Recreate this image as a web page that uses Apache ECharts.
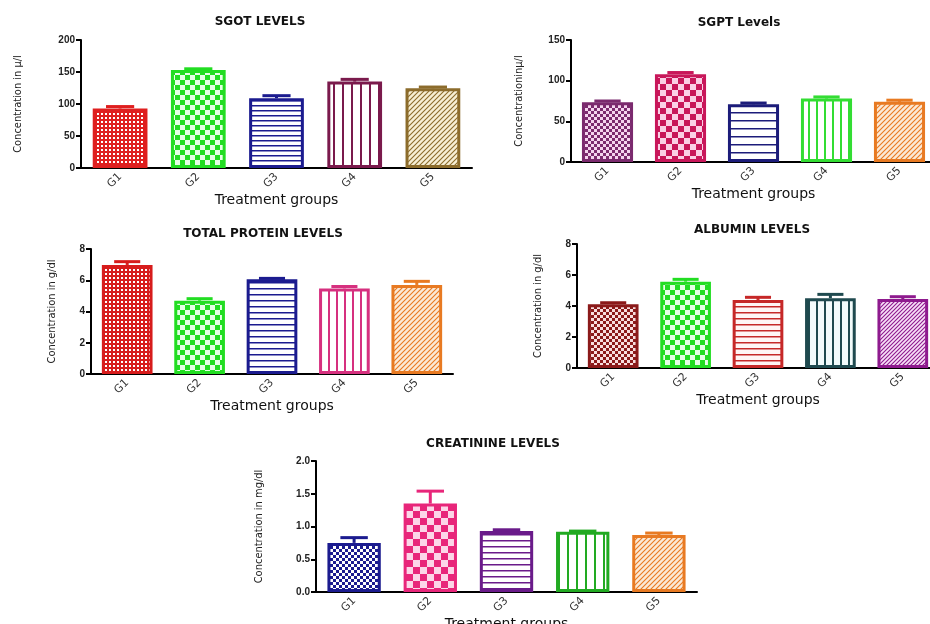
<!DOCTYPE html>
<html>
<head>
<meta charset="utf-8">
<script src="https://cdn.jsdelivr.net/npm/echarts@6/dist/echarts.min.js"></script>
<style>html,body{margin:0;padding:0;background:#fff;}#c{width:930px;height:624px;}</style>
</head>
<body>
<div id="c"></div>
<script>
// ---- data ----
const groups = ['G1', 'G2', 'G3', 'G4', 'G5'];
const sgotMean = [93, 153, 109, 135, 124.5];
const sgotErr = [96, 155, 113, 138.5, 126.5];
const sgptMean = [73.5, 108, 71, 78, 74];
const sgptErr = [75, 110, 72.5, 80, 76];
const proteinMean = [6.98, 4.69, 6.06, 5.48, 5.7];
const proteinErr = [7.19, 4.82, 6.12, 5.6, 5.93];
const albuminMean = [4.11, 5.57, 4.39, 4.5, 4.45];
const albuminErr = [4.21, 5.72, 4.56, 4.75, 4.6];
const creatMean = [0.75, 1.35, 0.93, 0.92, 0.87];
const creatErr = [0.83, 1.54, 0.95, 0.93, 0.9];
const titles = ['SGOT LEVELS', 'SGPT Levels', 'TOTAL PROTEIN LEVELS', 'ALBUMIN LEVELS', 'CREATININE LEVELS'];
const yNames = ['Concentration in µ/l', 'Concentrationinµ/l', 'Concentration in g/dl', 'Concentration in g/dl', 'Concentration in mg/dl'];
const xName = 'Treatment groups';

// ---- patterns ----
function mk(w, h, draw) {
  const c = document.createElement('canvas');
  c.width = w; c.height = h;
  draw(c.getContext('2d'), w, h);
  return { image: c, repeat: 'repeat' };
}
function pat(kind, color, bg, n) {
  bg = bg || '#ffffff';
  if (kind === 'grid') return mk(n, n, (g) => { g.fillStyle = color; g.fillRect(0, 0, n, n); g.fillStyle = bg; g.fillRect(1, 1, n - 2, n - 2); });
  if (kind === 'check') return mk(2 * n, 2 * n, (g) => { g.fillStyle = bg; g.fillRect(0, 0, 2 * n, 2 * n); g.fillStyle = color; g.fillRect(0, 0, n, n); g.fillRect(n, n, n, n); });
  if (kind === 'h') return mk(4, n, (g) => { g.fillStyle = bg; g.fillRect(0, 0, 4, n); g.fillStyle = color; g.fillRect(0, 0, 4, 1.5); });
  if (kind === 'v') return mk(n, 4, (g) => { g.fillStyle = bg; g.fillRect(0, 0, n, 4); g.fillStyle = color; g.fillRect(0, 0, 2, 4); });
  if (kind === 'hatch') return mk(n, n, (g) => {
    g.fillStyle = bg; g.fillRect(0, 0, n, n);
    g.strokeStyle = color; g.lineWidth = 1.1;
    g.beginPath(); g.moveTo(0, n); g.lineTo(n, 0); g.moveTo(-1, 1); g.lineTo(1, -1); g.moveTo(n - 1, n + 1); g.lineTo(n + 1, n - 1); g.stroke();
  });
}

const panels = [
  { grid: { left: 81, top: 40, width: 391, height: 128 }, max: 200, interval: 50, dec: 0, mean: sgotMean, err: sgotErr,
    title: { x: 255, y: 11 }, nameGap: 57, xGap: 24,
    colors: ['#df1f1f', '#22dd22', '#1b1b8f', '#7a1a4c', '#8c6c2c'],
    fills: () => [pat('grid', '#df1f1f', '#ffffff', 4), pat('check', '#22dd22', '#e6ffe6', 5), pat('h', '#1b1b8f', '#ffffff', 5), pat('v', '#7a1a4c', '#ffffff', 9), pat('hatch', '#8c6c2c', '#f7efd4', 5)] },
  { grid: { left: 571, top: 40, width: 365, height: 122 }, max: 150, interval: 50, dec: 0, mean: sgptMean, err: sgptErr,
    title: { x: 734, y: 12 }, nameGap: 46, xGap: 21,
    colors: ['#7b2a6e', '#c8175a', '#1c1c7a', '#33dd33', '#e87a22'],
    fills: () => [pat('check', '#7b2a6e', '#f4d4ee', 3), pat('check', '#c8175a', '#fbd0e6', 6), pat('h', '#1c1c7a', '#ffffff', 8), pat('v', '#33dd33', '#ffffff', 8), pat('hatch', '#e87a22', '#fbe9d6', 5)] },
  { grid: { left: 91, top: 249, width: 362, height: 125 }, max: 8, interval: 2, dec: 0, mean: proteinMean, err: proteinErr,
    title: { x: 258, y: 223 }, nameGap: 33, xGap: 23,
    colors: ['#d71c1c', '#22dd22', '#1b1b8f', '#d6307f', '#e87a22'],
    fills: () => [pat('grid', '#d71c1c', '#ffffff', 4), pat('check', '#22dd22', '#e6ffe6', 5), pat('h', '#1b1b8f', '#ffffff', 6), pat('v', '#d6307f', '#ffffff', 8), pat('hatch', '#e87a22', '#fbe9d6', 5)] },
  { grid: { left: 577, top: 244, width: 362, height: 124 }, max: 8, interval: 2, dec: 0, mean: albuminMean, err: albuminErr,
    title: { x: 747, y: 219 }, nameGap: 33, xGap: 21,
    colors: ['#8b1a1a', '#22dd22', '#c62828', '#1f4a4f', '#8e1a8e'],
    fills: () => [pat('check', '#8b1a1a', '#f8dede', 3), pat('check', '#22dd22', '#e6ffe6', 5), pat('h', '#c62828', '#fff4f4', 6), pat('v', '#1f4a4f', '#f2fbfb', 8), pat('hatch', '#8e1a8e', '#f8e0f8', 4)] },
  { grid: { left: 316, top: 461, width: 381, height: 131 }, max: 2, interval: 0.5, dec: 1, mean: creatMean, err: creatErr,
    title: { x: 488, y: 433 }, nameGap: 51, xGap: 23,
    colors: ['#1b1b8f', '#e8267a', '#6a1b8a', '#22aa22', '#e87a22'],
    fills: () => [pat('check', '#1b1b8f', '#ffffff', 3), pat('check', '#e8267a', '#fcd6e8', 7), pat('h', '#6a1b8a', '#ffffff', 6), pat('v', '#22aa22', '#ffffff', 9), pat('hatch', '#e87a22', '#fbe9d6', 5)] }
];

const option = { animation: false, backgroundColor: '#ffffff', title: [], grid: [], xAxis: [], yAxis: [], series: [] };
panels.forEach((p, k) => {
  const fills = p.fills();
  option.title.push({ text: titles[k], left: p.title.x, top: p.title.y, textAlign: 'center',
    textStyle: { fontFamily: 'DejaVu Sans', fontWeight: 'bold', fontSize: 12, color: '#111' } });
  option.grid.push(Object.assign({ containLabel: false, outerBoundsMode: 'none' }, p.grid));
  option.xAxis.push({ type: 'category', gridIndex: k, data: groups,
    name: xName, nameLocation: 'middle', nameGap: p.xGap,
    nameTextStyle: { fontFamily: 'DejaVu Sans', fontSize: 14, color: '#111' },
    axisLine: { lineStyle: { color: '#000', width: 2 } },
    axisTick: { alignWithLabel: true, length: 4, lineStyle: { color: '#000', width: 2 } },
    axisLabel: { rotate: 45, fontSize: 11, color: '#333', fontFamily: 'DejaVu Sans', margin: 7 } });
  option.yAxis.push({ type: 'value', gridIndex: k, min: 0, max: p.max, interval: p.interval,
    name: yNames[k], nameLocation: 'middle', nameGap: p.nameGap, nameRotate: 90,
    nameTextStyle: { fontFamily: 'Liberation Sans Narrow, DejaVu Sans Condensed, Liberation Sans', fontSize: 11, color: '#222' },
    axisLine: { show: true, lineStyle: { color: '#000', width: 2 } },
    axisTick: { show: true, length: 5, lineStyle: { color: '#000', width: 2 } },
    splitLine: { show: false },
    axisLabel: { fontSize: 10, fontWeight: 'bold', color: '#222', fontFamily: 'Liberation Sans', margin: 6,
      formatter: (v) => v.toFixed(p.dec) } });
  option.series.push({ type: 'bar', xAxisIndex: k, yAxisIndex: k, barWidth: '70%',
    data: p.mean.map((v, i) => ({ value: v, itemStyle: { color: fills[i], borderColor: p.colors[i], borderWidth: 3 } })) });
  option.series.push({ type: 'custom', xAxisIndex: k, yAxisIndex: k, z: 5,
    data: p.mean.map((v, i) => [i, v, p.err[i]]),
    renderItem: (params, api) => {
      const i = api.value(0);
      const base = api.coord([i, api.value(1)]);
      const top = api.coord([i, api.value(2)]);
      const bw = api.size([1, 0])[0];
      const hw = bw * 0.18;
      const col = p.colors[params.dataIndex];
      return { type: 'group', children: [
        { type: 'line', shape: { x1: top[0], y1: base[1], x2: top[0], y2: top[1] }, style: { stroke: col, lineWidth: 3 } },
        { type: 'line', shape: { x1: top[0] - hw, y1: top[1], x2: top[0] + hw, y2: top[1] }, style: { stroke: col, lineWidth: 3 } }
      ] };
    } });
});

const chart = echarts.init(document.getElementById('c'), null, { renderer: 'canvas' });
chart.setOption(option);
</script>
</body>
</html>
